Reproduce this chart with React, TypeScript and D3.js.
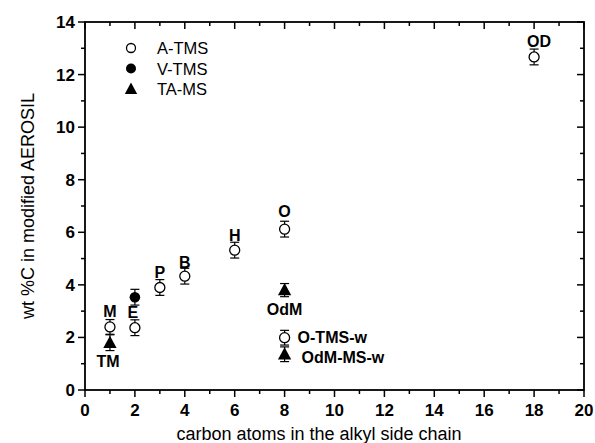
import React from "react";
import * as d3 from "d3";

// A-TMS (open circles)
const aX = [1, 2, 3, 4, 6, 8, 18, 8];
const aY = [2.4, 2.37, 3.9, 4.33, 5.32, 6.12, 12.67, 1.99];
const aErr = [0.28, 0.3, 0.3, 0.3, 0.3, 0.3, 0.3, 0.28];

// V-TMS (filled circles)
const vX = [2];
const vY = [3.53];
const vErr = [0.3];

// TA-MS (filled triangles)
const tX = [1, 8, 8];
const tY = [1.8, 3.8, 1.36];
const tErr = [0.3, 0.25, 0.28];

const xTicks = [0, 2, 4, 6, 8, 10, 12, 14, 16, 18, 20];
const yTicks = [0, 2, 4, 6, 8, 10, 12, 14];

// point labels: text, data x, data y, pixel offsets, anchor
const labels = [
  { t: "M", x: 1, y: 2.4, dx: 0, dy: -10, a: "middle" },
  { t: "TM", x: 1, y: 1.8, dx: -2, dy: 24, a: "middle" },
  { t: "E", x: 2, y: 2.37, dx: -2, dy: -10, a: "middle" },
  { t: "P", x: 3, y: 3.9, dx: 0, dy: -9, a: "middle" },
  { t: "B", x: 4, y: 4.33, dx: 0, dy: -8, a: "middle" },
  { t: "H", x: 6, y: 5.32, dx: 0, dy: -9, a: "middle" },
  { t: "O", x: 8, y: 6.12, dx: 0, dy: -12, a: "middle" },
  { t: "OD", x: 18, y: 12.67, dx: 5, dy: -10, a: "middle" },
  { t: "OdM", x: 8, y: 3.8, dx: 0, dy: 25, a: "middle" },
  { t: "O-TMS-w", x: 8, y: 1.99, dx: 13, dy: 5, a: "start" },
  { t: "OdM-MS-w", x: 8, y: 1.36, dx: 17, dy: 9, a: "start" },
];

const legendItems = ["A-TMS", "V-TMS", "TA-MS"];

export default function App() {
  const margin = { top: 22, right: 11, bottom: 53, left: 85 };
  const W = 595, H = 443;
  const x = d3.scaleLinear().domain([0, 20]).range([margin.left, W - margin.right]);
  const y = d3.scaleLinear().domain([0, 14]).range([H - margin.bottom, margin.top]);
  const [x0, x1] = x.range();
  const [y0, y1] = y.range();
  const font = "Liberation Sans, Arial, sans-serif";

  const tri = (cx: number, cy: number, s: number) =>
    `M${cx},${cy - s} L${cx + s * 0.95},${cy + s * 0.75} L${cx - s * 0.95},${cy + s * 0.75} Z`;

  const errBar = (px: number, py: number, e: number, key: string) => (
    <g key={key} stroke="#000" strokeWidth={1.2}>
      <line x1={x(px)} x2={x(px)} y1={y(py - e)} y2={y(py + e)} />
      <line x1={x(px) - 4.5} x2={x(px) + 4.5} y1={y(py - e)} y2={y(py - e)} />
      <line x1={x(px) - 4.5} x2={x(px) + 4.5} y1={y(py + e)} y2={y(py + e)} />
    </g>
  );

  const minorX = d3.range(1, 20, 2);
  const minorY = d3.range(1, 14, 2);

  return (
    <svg width={W} height={H} style={{ position: "absolute", left: 0, top: 0 }} fontFamily={font}>
      <rect width={W} height={H} fill="#fff" />
      {/* frame */}
      <rect x={x0} y={y1} width={x1 - x0} height={y0 - y1} fill="none" stroke="#000" strokeWidth={1.8} />
      {/* bottom ticks outward, top ticks inward */}
      {xTicks.map((t) => (
        <g key={"xt" + t} stroke="#000" strokeWidth={1.5}>
          <line x1={x(t)} x2={x(t)} y1={y0} y2={y0 + 7} />
          <line x1={x(t)} x2={x(t)} y1={y1} y2={y1 + 7} />
        </g>
      ))}
      {minorX.map((t) => (
        <g key={"xm" + t} stroke="#000" strokeWidth={1.5}>
          <line x1={x(t)} x2={x(t)} y1={y0} y2={y0 + 4} />
          <line x1={x(t)} x2={x(t)} y1={y1} y2={y1 + 4} />
        </g>
      ))}
      {yTicks.map((t) => (
        <g key={"yt" + t} stroke="#000" strokeWidth={1.5}>
          <line x1={x0 - 7} x2={x0} y1={y(t)} y2={y(t)} />
          <line x1={x1 - 7} x2={x1} y1={y(t)} y2={y(t)} />
        </g>
      ))}
      {minorY.map((t) => (
        <g key={"ym" + t} stroke="#000" strokeWidth={1.5}>
          <line x1={x0 - 4} x2={x0} y1={y(t)} y2={y(t)} />
          <line x1={x1 - 4} x2={x1} y1={y(t)} y2={y(t)} />
        </g>
      ))}
      {/* tick labels */}
      {xTicks.map((t) => (
        <text key={"xl" + t} x={x(t)} y={y0 + 26} textAnchor="middle" fontSize={17} fontWeight="bold">
          {t}
        </text>
      ))}
      {yTicks.map((t) => (
        <text key={"yl" + t} x={x0 - 10} y={y(t) + 6} textAnchor="end" fontSize={17} fontWeight="bold">
          {t}
        </text>
      ))}
      {/* axis titles */}
      <text x={319} y={440} textAnchor="middle" fontSize={18}>
        carbon atoms in the alkyl side chain
      </text>
      <text transform={`translate(34,${(y0 + y1) / 2}) rotate(-90)`} textAnchor="middle" fontSize={18}>
        wt %C in modified AEROSIL
      </text>

      {/* error bars */}
      {aX.map((d, i) => errBar(d, aY[i], aErr[i], "ea" + i))}
      {vX.map((d, i) => errBar(d, vY[i], vErr[i], "ev" + i))}
      {tX.map((d, i) => errBar(d, tY[i], tErr[i], "et" + i))}

      {/* markers */}
      {aX.map((d, i) => (
        <circle key={"a" + i} cx={x(d)} cy={y(aY[i])} r={5} fill="#fff" stroke="#000" strokeWidth={1.3} />
      ))}
      {vX.map((d, i) => (
        <circle key={"v" + i} cx={x(d)} cy={y(vY[i])} r={5.3} fill="#000" />
      ))}
      {tX.map((d, i) => (
        <path key={"t" + i} d={tri(x(d), y(tY[i]), 7)} fill="#000" />
      ))}

      {/* point labels */}
      {labels.map((l) => (
        <text
          key={l.t}
          x={x(l.x) + l.dx}
          y={y(l.y) + l.dy}
          textAnchor={l.a}
          fontSize={16}
          fontWeight="bold"
        >
          {l.t}
        </text>
      ))}

      {/* legend */}
      {legendItems.map((name, i) => {
        const ly = 48 + i * 20.5;
        return (
          <g key={name}>
            {i === 0 && <circle cx={131} cy={ly} r={4.5} fill="#fff" stroke="#000" strokeWidth={1.3} />}
            {i === 1 && <circle cx={131} cy={ly} r={5} fill="#000" />}
            {i === 2 && <path d={tri(131, ly, 6.5)} fill="#000" />}
            <text x={157} y={ly + 6} fontSize={16.5}>
              {name}
            </text>
          </g>
        );
      })}
    </svg>
  );
}
